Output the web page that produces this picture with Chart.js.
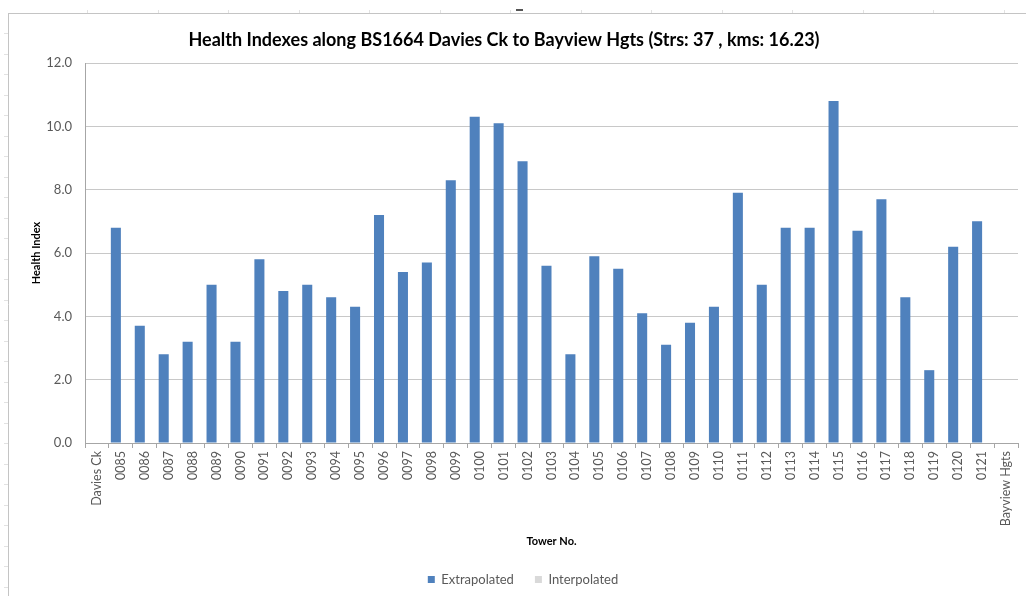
<!DOCTYPE html>
<html>
<head>
<meta charset="utf-8">
<script src="https://cdn.jsdelivr.net/npm/chart.js@4.4.1/dist/chart.umd.min.js"></script>
<style>
  html, body { margin: 0; padding: 0; background: #ffffff; }
  #wrap { width: 1026px; height: 596px; position: relative; }
</style>
</head>
<body>
<div id="wrap"><canvas id="c" width="1026" height="596"></canvas></div>
<script>
// Towers along the line, bracketed by the two end stations
const towers = [
  'Davies Ck', '0085', '0086', '0087', '0088', '0089', '0090', '0091', '0092', '0093',
  '0094', '0095', '0096', '0097', '0098', '0099', '0100', '0101', '0102', '0103',
  '0104', '0105', '0106', '0107', '0108', '0109', '0110', '0111', '0112', '0113',
  '0114', '0115', '0116', '0117', '0118', '0119', '0120', '0121', 'Bayview Hgts'
];

// Health index per tower (end stations carry no value)
const extrapolated = [
  null, 6.8, 3.7, 2.8, 3.2, 5.0, 3.2, 5.8, 4.8, 5.0,
  4.6, 4.3, 7.2, 5.4, 5.7, 8.3, 10.3, 10.1, 8.9, 5.6,
  2.8, 5.9, 5.5, 4.1, 3.1, 3.8, 4.3, 7.9, 5.0, 6.8,
  6.8, 10.8, 6.7, 7.7, 4.6, 2.3, 6.2, 7.0, null
];

// No interpolated towers on this line
const interpolated = [
  null, null, null, null, null, null, null, null, null, null,
  null, null, null, null, null, null, null, null, null, null,
  null, null, null, null, null, null, null, null, null, null,
  null, null, null, null, null, null, null, null, null
];

const yTickValues = [0, 2, 4, 6, 8, 10, 12];

const FONT = 'Lato, "Open Sans", sans-serif';
const TEXT_GREY = '#595959';

// Page frame: thin ruled border along the top and left edges
const framePlugin = {
  id: 'frame',
  beforeDraw(chart) {
    const ctx = chart.ctx;
    ctx.save();
    ctx.fillStyle = '#ffffff';
    ctx.fillRect(0, 0, chart.width, chart.height);
    ctx.strokeStyle = '#c4c4c4';
    ctx.lineWidth = 1;
    ctx.beginPath();
    ctx.moveTo(8, 13.5); ctx.lineTo(chart.width, 13.5);
    ctx.moveTo(8.5, 13); ctx.lineTo(8.5, chart.height);
    ctx.stroke();
    ctx.strokeStyle = '#e2e2e2';
    ctx.beginPath();
    for (let y = 33; y < chart.height; y += 20.5) {
      ctx.moveTo(4, Math.round(y) + 0.5); ctx.lineTo(8, Math.round(y) + 0.5);
    }
    for (let x = 87; x < chart.width; x += 70.5) {
      ctx.moveTo(Math.round(x) + 0.5, 10); ctx.lineTo(Math.round(x) + 0.5, 13);
    }
    ctx.stroke();
    ctx.fillStyle = '#555555';
    ctx.fillRect(516, 9, 7, 2);
    ctx.restore();
  }
};

// Nudge the title slightly left and the legend slightly right
const nudgePlugin = {
  id: 'nudge',
  afterLayout(chart) {
    if (chart.titleBlock) { chart.titleBlock.left -= 9; chart.titleBlock.right -= 9; }
    if (chart.legend) { chart.legend.left += 10; chart.legend.right += 10; }
  }
};

new Chart(document.getElementById('c'), {
  type: 'bar',
  data: {
    labels: towers,
    datasets: [
      {
        label: 'Extrapolated',
        data: extrapolated,
        backgroundColor: '#4f81bd',
        borderWidth: 0,
        categoryPercentage: 0.84,
        barPercentage: 1.0
      },
      {
        label: 'Interpolated',
        data: interpolated,
        backgroundColor: '#d9d9d9',
        borderWidth: 0,
        categoryPercentage: 0.84,
        barPercentage: 1.0
      }
    ]
  },
  options: {
    responsive: false,
    animation: false,
    devicePixelRatio: 1,
    layout: { padding: { left: 8, right: 8, top: 0, bottom: 0 } },
    plugins: {
      title: {
        display: true,
        text: 'Health Indexes along BS1664 Davies Ck to Bayview Hgts (Strs: 37 , kms: 16.23)',
        color: '#000000',
        font: { family: FONT, size: 18, weight: 'bold', lineHeight: 1.2 },
        padding: { top: 29, bottom: 12.4 }
      },
      legend: {
        display: true,
        position: 'bottom',
        labels: {
          color: TEXT_GREY,
          font: { family: FONT, size: 13 },
          boxWidth: 7,
          boxHeight: 7,
          padding: 21
        }
      },
      tooltip: { enabled: false }
    },
    scales: {
      x: {
        offset: true,
        grid: {
          offset: true,
          drawOnChartArea: false,
          drawTicks: true,
          tickLength: 5,
          color: '#a6a6a6'
        },
        border: { color: '#a6a6a6' },
        ticks: {
          color: TEXT_GREY,
          font: { family: FONT, size: 12.5 },
          minRotation: 90,
          maxRotation: 90,
          autoSkip: false,
          padding: 3
        },
        title: {
          display: true,
          text: 'Tower No.',
          color: '#000000',
          font: { family: FONT, size: 11, weight: 'bold' },
          padding: { top: 0, bottom: 4 }
        },
        afterFit(scale) { scale.height = 109; }
      },
      y: {
        min: 0,
        max: 12,
        grid: {
          color: '#c8c8c8',
          drawTicks: false
        },
        border: { color: '#a6a6a6' },
        afterBuildTicks(scale) {
          scale.ticks = yTickValues.map(v => ({ value: v }));
        },
        ticks: {
          color: TEXT_GREY,
          font: { family: FONT, size: 13 },
          padding: 13,
          callback: v => Number(v).toFixed(1)
        },
        title: {
          display: true,
          text: 'Health Index',
          color: '#000000',
          font: { family: FONT, size: 11, weight: 'bold' },
          padding: { top: 21.4, bottom: 0 }
        },
        afterFit(scale) { scale.width = 77; }
      }
    }
  },
  plugins: [framePlugin, nudgePlugin]
});
</script>
</body>
</html>
